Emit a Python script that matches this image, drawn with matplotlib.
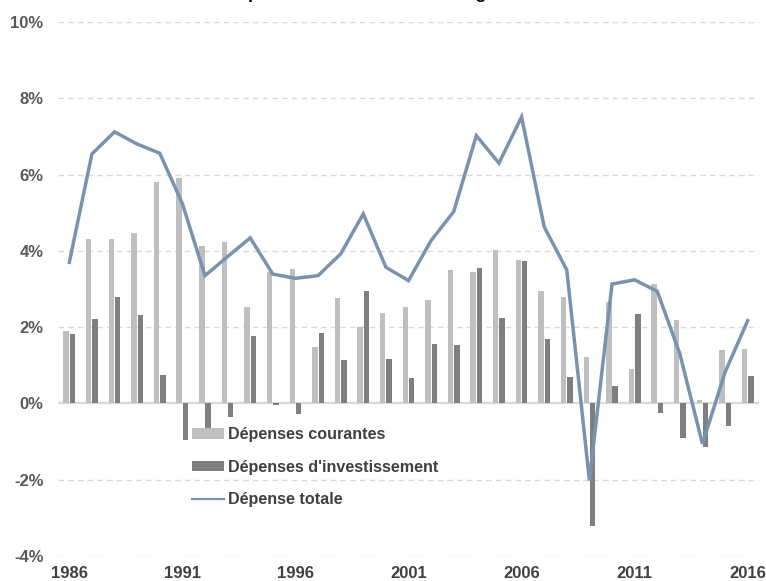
import matplotlib
matplotlib.use("Agg")
import matplotlib.pyplot as plt
from matplotlib.lines import Line2D
import numpy as np

plt.rcParams['font.family'] = ['Liberation Sans', 'DejaVu Sans']

years = list(range(1986, 2017))
courantes = [1.89, 4.30, 4.31, 4.46, 5.81, 5.92, 4.14, 4.24, 2.54, 3.44, 3.53,
             1.47, 2.77, 2.00, 2.38, 2.54, 2.71, 3.51, 3.44, 4.03, 3.76, 2.96,
             2.78, 1.22, 2.65, 0.89, 3.14, 2.20, 0.10, 1.41, 1.42]
investissement = [1.82, 2.21, 2.80, 2.32, 0.74, -0.97, -0.75, -0.36, 1.78, -0.03, -0.27,
                  1.85, 1.13, 2.96, 1.17, 0.66, 1.55, 1.52, 3.56, 2.25, 3.73, 1.68,
                  0.69, -3.22, 0.45, 2.34, -0.24, -0.90, -1.14, -0.58, 0.72]
totale = [3.70, 6.54, 7.12, 6.80, 6.56, 5.24, 3.35, 3.85, 4.34, 3.39, 3.28,
          3.35, 3.92, 4.97, 3.57, 3.22, 4.27, 5.03, 7.02, 6.30, 7.51, 4.63,
          3.50, -2.02, 3.13, 3.24, 2.94, 1.30, -1.06, 0.82, 2.17]
tick_years = [1986, 1991, 1996, 2001, 2006, 2011, 2016]
yticks = [-4, -2, 0, 2, 4, 6, 8, 10]
labels = ["Dépenses courantes", "Dépenses d'investissement", "Dépense totale"]
title = "Dépenses des collectivités en glissement annuel"

W, H = 766, 581
fig = plt.figure(figsize=(W / 100, H / 100), dpi=100)
ax = fig.add_axes([58 / W, 25 / H, (759 - 58) / W, (556 - 22) / H])

x = np.arange(len(years))
c_light = '#bfbfbf'
c_dark = '#7f7f7f'
c_line = '#7a92b0'

ax.set_xlim(-0.5, len(years) - 0.5)
ax.set_ylim(-4, 10)

for yv in yticks:
    if yv != 0:
        ax.axhline(yv, color='#d9d9d9', lw=1.0, ls=(0, (4, 3)), zorder=0)
ax.axhline(0, color='#d9d9d9', lw=1.6, zorder=1)

b1 = ax.bar(x - 0.14, courantes, width=0.24, color=c_light, zorder=2, label=labels[0])
b2 = ax.bar(x + 0.14, investissement, width=0.24, color=c_dark, zorder=2, label=labels[1])
l1, = ax.plot(x, totale, color=c_line, lw=2.5, zorder=4, label=labels[2],
              solid_joinstyle='miter')
l1_handle = Line2D([], [], color=c_line, lw=1.6)

ax.set_yticks(yticks)
ax.set_yticklabels([f"{v}%" for v in yticks], fontweight='bold', color='#595959', fontsize=12)
ax.set_xticks([years.index(y) for y in tick_years])
ax.set_xticklabels([str(y) for y in tick_years], fontweight='bold', color='#404040', fontsize=12)
ax.tick_params(axis='y', length=0, pad=10.5)
ax.tick_params(axis='x', length=0, pad=7.5)
for s in ax.spines.values():
    s.set_visible(False)

leg = ax.legend(handles=[b1, b2, l1_handle], labels=labels, loc='upper left',
                bbox_to_anchor=(192 / W, 1 - 427 / H), bbox_transform=fig.transFigure,
                frameon=False, prop={'weight': 'bold', 'size': 11.6},
                handlelength=2.0, handleheight=0.65, handletextpad=0.25,
                labelspacing=1.1, borderaxespad=0, borderpad=0)
for t in leg.get_texts():
    t.set_color('#404040')
leg.set_zorder(5)

fig.text(226 / W, 1 + 1.5 / H, title, ha='left', va='baseline',
         fontsize=12.4, fontweight='bold', color='black')

fig.savefig('out.png', dpi=100)
